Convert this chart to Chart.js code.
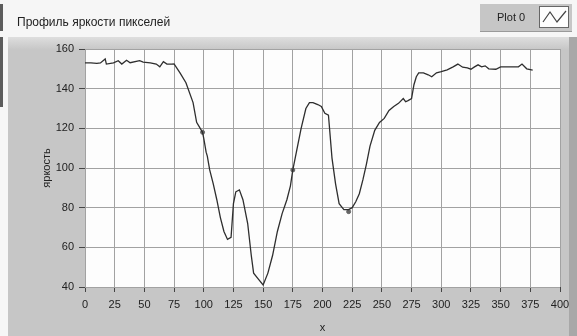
<!DOCTYPE html>
<html>
<head>
<meta charset="utf-8">
<script src="https://cdn.jsdelivr.net/npm/chart.js@4"></script>
<style>
  body { margin: 0; background: #f6f6f6; }
  canvas { display: block; }
</style>
</head>
<body>
<canvas id="profil" width="577" height="336"></canvas>
<script>
// профиль яркости: x (пиксель) и яркость
const profileX = [
  0, 5, 10, 13, 17, 18, 24, 28, 31, 35,
  38, 46, 49, 55, 60, 63, 66, 69, 73, 75,
  80, 85, 91, 94, 99, 100, 102, 103, 105, 108,
  111, 114, 117, 120, 123, 125, 127, 130, 133, 137,
  140, 142, 146, 150, 154, 158, 162, 166, 170, 173,
  175, 178, 182, 186, 189, 192, 196, 199, 202, 205,
  208, 211, 214, 218, 222, 225, 228, 231, 234, 237,
  240, 244, 248, 252, 256, 260, 264, 268, 270, 272,
  275, 277, 279, 281, 285, 289, 292, 296, 300, 305,
  310, 314, 318, 322, 325, 328, 331, 334, 337, 340,
  346, 350, 355, 360, 365, 368, 372, 377
];
const profileY = [
  153, 153, 152.8, 153, 155, 152.4, 153, 154.1, 152.4, 154.3,
  153.1, 154.1, 153.4, 153, 152.4, 151, 153.6, 152.4, 152.4, 152.5,
  148, 143, 133, 123, 118, 115, 108, 106, 99, 92,
  84, 75, 68, 64, 65, 82, 88, 89, 84, 72,
  56, 47, 44, 41, 47, 56, 68, 77, 84, 91,
  99, 108, 120, 130, 133, 133, 132, 131, 127.6, 126.7,
  105, 92, 82, 79, 79, 80, 83, 87, 94, 102,
  111, 119, 123, 125, 129, 131, 132.6, 135, 133.4, 134,
  135, 142, 146, 148, 148, 147, 146, 148, 148.6, 149.5,
  151, 152.4, 150.8, 150.5, 149.8, 151, 152, 151, 151.5, 150,
  149.8, 151, 151, 151, 151, 152.4, 150, 149.4
];
// точки-маркеры на кривой
const markerX = [99, 175, 222];
const markerY = [118, 99, 78];

const tickFont = { family: '"Liberation Sans", Arial, sans-serif', size: 11 };

// фон панели LabVIEW, заголовок и легенда
const panelPlugin = {
  id: 'panel',
  beforeDraw(chart) {
    const { ctx, chartArea: a, width, height } = chart;
    ctx.save();
    ctx.fillStyle = '#f6f6f6';
    ctx.fillRect(0, 0, width, height);
    ctx.fillStyle = '#5c5c5c';
    ctx.fillRect(0, 4, 3, 27);
    ctx.fillRect(0, 37, 3, 70);

    const g = ctx.createLinearGradient(0, 37, 0, 50);
    g.addColorStop(0, '#dedede');
    g.addColorStop(1, '#c6c6c6');
    ctx.fillStyle = g;
    ctx.fillRect(8, 37, 562, height - 37);
    ctx.fillStyle = '#a8a8a8';
    ctx.fillRect(569, 37, 8, height - 37);

    ctx.fillStyle = '#fdfdfd';
    ctx.fillRect(a.left, a.top, a.right - a.left, a.bottom - a.top);

    ctx.fillStyle = '#222';
    ctx.font = '12px "Liberation Sans", Arial, sans-serif';
    ctx.textBaseline = 'middle';
    ctx.fillText('Профиль яркости пикселей', 17, 23);

    // легенда Plot 0
    ctx.fillStyle = '#c6c6c6';
    ctx.fillRect(480, 4, 92, 28);
    ctx.fillStyle = '#9a9a9a';
    ctx.fillRect(480, 31, 92, 1);
    ctx.fillStyle = '#222';
    ctx.font = '11px "Liberation Sans", Arial, sans-serif';
    ctx.fillText('Plot 0', 497, 18);
    ctx.fillStyle = '#fdfdfd';
    ctx.fillRect(539, 6, 30, 22);
    ctx.strokeStyle = '#666';
    ctx.lineWidth = 1;
    ctx.strokeRect(539.5, 6.5, 29, 21);
    ctx.strokeStyle = '#444';
    ctx.lineWidth = 1.2;
    ctx.beginPath();
    ctx.moveTo(543, 22);
    ctx.lineTo(550, 12);
    ctx.lineTo(557, 22);
    ctx.lineTo(566, 11);
    ctx.stroke();
    ctx.restore();
  }
};

new Chart(document.getElementById('profil'), {
  type: 'line',
  data: {
    datasets: [{
      label: 'Plot 0',
      data: profileX.map((x, i) => ({ x: x, y: profileY[i] })),
      borderColor: '#2e2e2e',
      borderWidth: 1.3,
      pointRadius: 0,
      tension: 0
    }, {
      label: 'markers',
      data: markerX.map((x, i) => ({ x: x, y: markerY[i] })),
      showLine: false,
      pointRadius: 2,
      pointBackgroundColor: '#666',
      pointBorderColor: '#666'
    }]
  },
  options: {
    responsive: false,
    animation: false,
    layout: { padding: { left: 38, top: 49, right: 17, bottom: 0 } },
    plugins: {
      legend: { display: false },
      tooltip: { enabled: false }
    },
    scales: {
      x: {
        type: 'linear',
        min: 0,
        max: 400,
        afterFit: s => { s.height = 49; },
        ticks: { stepSize: 25, padding: 6, font: tickFont, color: '#222', maxRotation: 0 },
        grid: { color: '#a2a2a2', tickColor: '#444', tickLength: 5 },
        border: { display: false },
        title: { display: true, text: 'x', font: tickFont, color: '#222', padding: { top: 0, bottom: 1 } }
      },
      y: {
        min: 40,
        max: 160,
        afterFit: s => { s.width = 47; },
        ticks: { stepSize: 20, padding: 5, font: tickFont, color: '#222' },
        grid: { color: '#a2a2a2', tickColor: '#444', tickLength: 6 },
        border: { display: false },
        title: { display: true, text: 'яркость', font: tickFont, color: '#222', padding: { top: 2, bottom: 0 } }
      }
    }
  },
  plugins: [panelPlugin]
});
</script>
</body>
</html>
